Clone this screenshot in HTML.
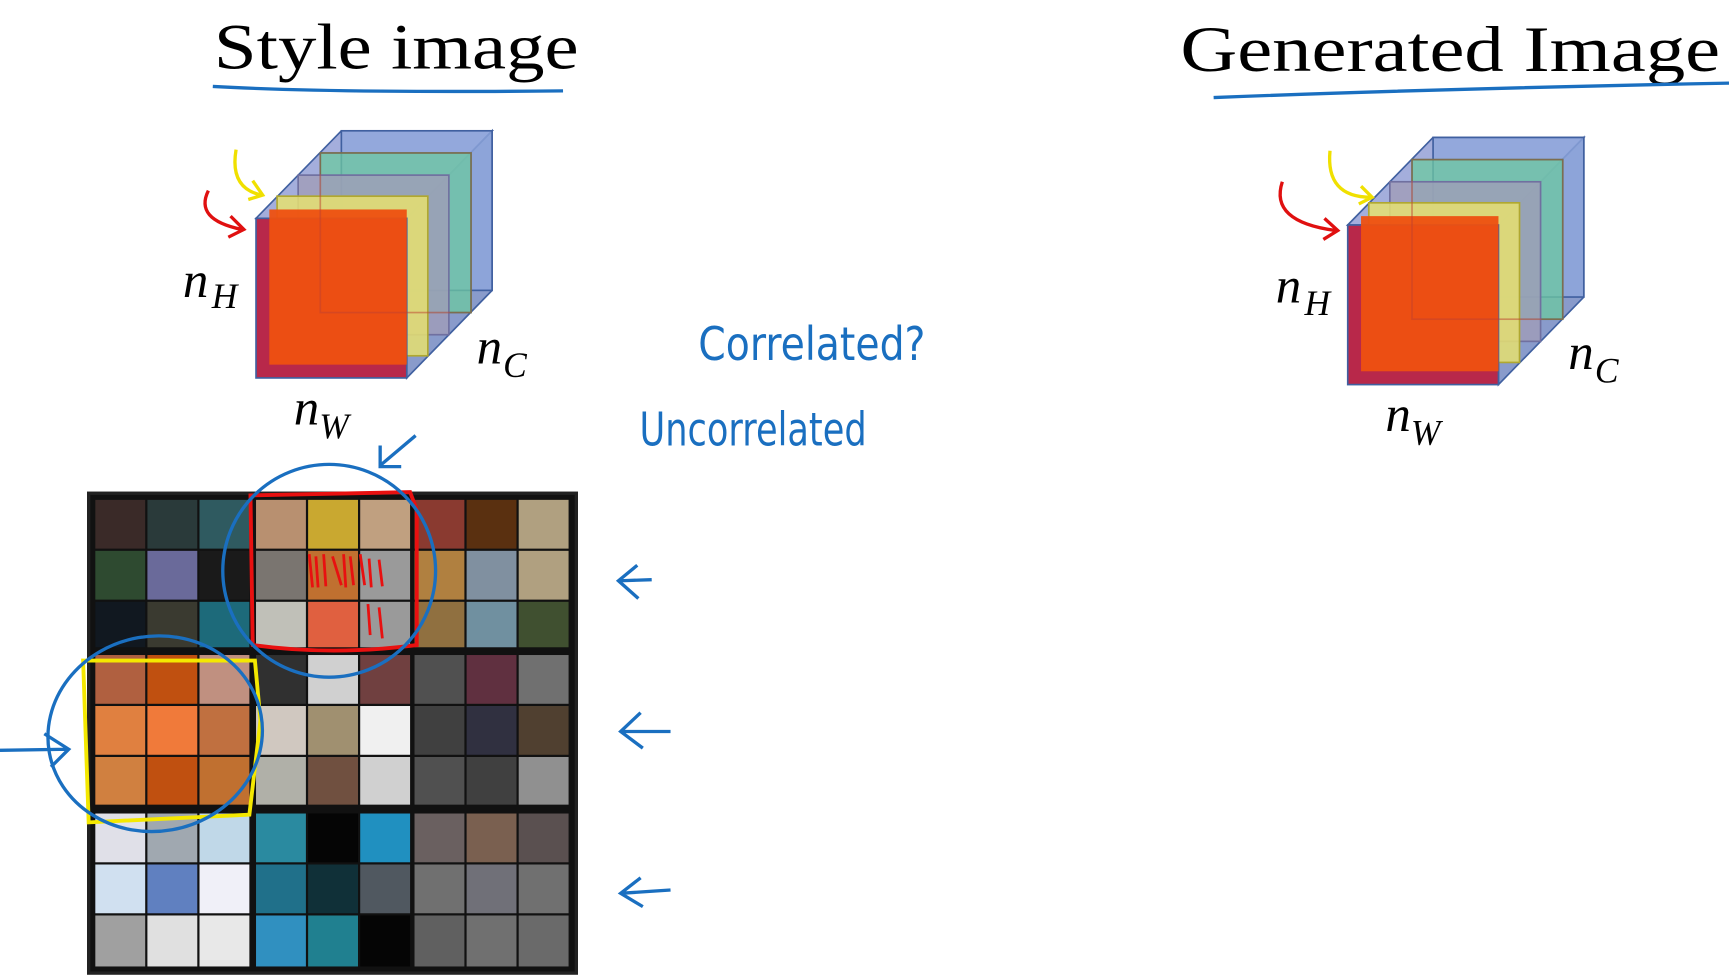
<!DOCTYPE html>
<html><head><meta charset="utf-8"><style>
html,body{margin:0;padding:0;background:#fff;}
svg{display:block;}
</style></head><body>
<svg width="1729" height="976" viewBox="0 0 1560 880.6" xmlns="http://www.w3.org/2000/svg">
<defs>
<g id="cube">
  <polygon points="0,0 77,-79 213,-79 136,0" fill="#5a6cc0" fill-opacity="0.55" stroke="#4060a0" stroke-width="1.5"/>
  <polygon points="136,0 213,-79 213,65 136,144" fill="#3a58a8" fill-opacity="0.6" stroke="#4060a0" stroke-width="1.5"/>
  <rect x="77" y="-79" width="136" height="144" fill="#8ea6dc" fill-opacity="0.8" stroke="#4060a0" stroke-width="1.5"/>
  <rect x="58" y="-59" width="136" height="144" fill="#6cc8a0" fill-opacity="0.75" stroke="#3a9a70" stroke-width="1.5"/>
  <rect x="38" y="-39" width="136" height="144" fill="#a09cb8" fill-opacity="0.8" stroke="#7070a0" stroke-width="1.5"/>
  <rect x="19" y="-20" width="136" height="144" fill="#e6e070" fill-opacity="0.85" stroke="#b0a830" stroke-width="1.5"/>
  <rect x="0" y="0" width="136" height="144" fill="#b8284a" stroke="#4060a0" stroke-width="1.5"/>
  <rect x="12" y="-8" width="124" height="140" fill="#ee5010" fill-opacity="0.95"/>
  <rect x="58" y="-59" width="136" height="144" fill="none" stroke="#c04030" stroke-opacity="0.5" stroke-width="1.5"/>
</g>
</defs>

<!-- Titles -->
<text x="193" y="62" font-family="Liberation Serif, serif" font-size="58" fill="#000" textLength="329" lengthAdjust="spacingAndGlyphs">Style image</text>
<path d="M192,78 Q300,84 508,82" stroke="#1a6fc0" stroke-width="3" fill="none"/>
<text x="1065" y="64" font-family="Liberation Serif, serif" font-size="58" fill="#000" textLength="487" lengthAdjust="spacingAndGlyphs">Generated Image</text>
<path d="M1095,88 Q1300,80 1560,75" stroke="#1a6fc0" stroke-width="3" fill="none"/>

<!-- Cubes -->
<use href="#cube" transform="translate(231,197)"/>
<use href="#cube" transform="translate(1216,203)"/>

<!-- cube arrows -->
<path d="M188,172 Q175,198 218,207 M208,195 L220,207 L206,214" stroke="#e01010" stroke-width="3" fill="none"/>
<path d="M213,135 Q207,170 236,176 M228,163 L237,176 L224,180" stroke="#f0e000" stroke-width="3" fill="none"/>
<path d="M1157,164 Q1145,200 1205,208 M1195,197 L1207,208 L1194,216" stroke="#e01010" stroke-width="3" fill="none"/>
<path d="M1200,136 Q1196,178 1237,178 M1228,168 L1238,178 L1226,184" stroke="#f0e000" stroke-width="3" fill="none"/>

<!-- labels -->
<g font-family="Liberation Serif, serif" font-style="italic" fill="#000">
<text x="165" y="268" font-size="46">n</text><text x="191" y="278" font-size="32">H</text>
<text x="430" y="328" font-size="46">n</text><text x="454" y="340" font-size="32">C</text>
<text x="265" y="383" font-size="46">n</text><text x="288" y="395" font-size="32">W</text>
<text x="1151" y="273" font-size="46">n</text><text x="1177" y="284" font-size="32">H</text>
<text x="1415" y="333" font-size="46">n</text><text x="1439" y="345" font-size="32">C</text>
<text x="1250" y="389" font-size="46">n</text><text x="1273" y="401" font-size="32">W</text>
</g>

<!-- handwriting -->
<text x="630" y="325" font-family="DejaVu Sans, sans-serif" font-size="42" fill="#1a6fc0" textLength="205" lengthAdjust="spacingAndGlyphs">Correlated?</text>
<text x="577" y="402" font-family="DejaVu Sans, sans-serif" font-size="42" fill="#1a6fc0" textLength="205" lengthAdjust="spacingAndGlyphs">Uncorrelated</text>

<!-- grid -->
<rect x="80" y="445" width="440" height="433" fill="#111" stroke="#222" stroke-width="3"/>
<g>
<rect x="86" y="451" width="45" height="44" fill="#3a2a28"/><rect x="133" y="451" width="45" height="44" fill="#2a3a3a"/><rect x="180" y="451" width="45" height="44" fill="#2f5a60"/>
<rect x="86" y="497" width="45" height="44" fill="#2e4a30"/><rect x="133" y="497" width="45" height="44" fill="#6a6a9a"/><rect x="180" y="497" width="45" height="44" fill="#1a1a1a"/>
<rect x="86" y="543" width="45" height="41" fill="#111820"/><rect x="133" y="543" width="45" height="41" fill="#3a3a30"/><rect x="180" y="543" width="45" height="41" fill="#1d6a7a"/>
<rect x="231" y="451" width="45" height="44" fill="#b89070"/><rect x="278" y="451" width="45" height="44" fill="#c9a830"/><rect x="325" y="451" width="45" height="44" fill="#c0a080"/>
<rect x="231" y="497" width="45" height="44" fill="#7a7570"/><rect x="278" y="497" width="45" height="44" fill="#c07030"/><rect x="325" y="497" width="45" height="44" fill="#9a9a9a"/>
<rect x="231" y="543" width="45" height="41" fill="#c0c0b8"/><rect x="278" y="543" width="45" height="41" fill="#e06040"/><rect x="325" y="543" width="45" height="41" fill="#9a9a9a"/>
<rect x="374" y="451" width="45" height="44" fill="#8a3a30"/><rect x="421" y="451" width="45" height="44" fill="#5a3010"/><rect x="468" y="451" width="45" height="44" fill="#b0a080"/>
<rect x="374" y="497" width="45" height="44" fill="#b08040"/><rect x="421" y="497" width="45" height="44" fill="#8090a0"/><rect x="468" y="497" width="45" height="44" fill="#b0a080"/>
<rect x="374" y="543" width="45" height="41" fill="#907040"/><rect x="421" y="543" width="45" height="41" fill="#7090a0"/><rect x="468" y="543" width="45" height="41" fill="#405030"/>
<rect x="86" y="591" width="45" height="44" fill="#b06040"/><rect x="133" y="591" width="45" height="44" fill="#c05010"/><rect x="180" y="591" width="45" height="44" fill="#c09080"/>
<rect x="86" y="637" width="45" height="44" fill="#e08040"/><rect x="133" y="637" width="45" height="44" fill="#f07a3a"/><rect x="180" y="637" width="45" height="44" fill="#c07040"/>
<rect x="86" y="683" width="45" height="43" fill="#d08040"/><rect x="133" y="683" width="45" height="43" fill="#c05010"/><rect x="180" y="683" width="45" height="43" fill="#c07030"/>
<rect x="231" y="591" width="45" height="44" fill="#303030"/><rect x="278" y="591" width="45" height="44" fill="#d0d0d0"/><rect x="325" y="591" width="45" height="44" fill="#704040"/>
<rect x="231" y="637" width="45" height="44" fill="#d0c8c0"/><rect x="278" y="637" width="45" height="44" fill="#a09070"/><rect x="325" y="637" width="45" height="44" fill="#f0f0f0"/>
<rect x="231" y="683" width="45" height="43" fill="#b0b0a8"/><rect x="278" y="683" width="45" height="43" fill="#705040"/><rect x="325" y="683" width="45" height="43" fill="#d0d0d0"/>
<rect x="374" y="591" width="45" height="44" fill="#505050"/><rect x="421" y="591" width="45" height="44" fill="#603040"/><rect x="468" y="591" width="45" height="44" fill="#707070"/>
<rect x="374" y="637" width="45" height="44" fill="#404040"/><rect x="421" y="637" width="45" height="44" fill="#303040"/><rect x="468" y="637" width="45" height="44" fill="#504030"/>
<rect x="374" y="683" width="45" height="43" fill="#505050"/><rect x="421" y="683" width="45" height="43" fill="#404040"/><rect x="468" y="683" width="45" height="43" fill="#909090"/>
<rect x="86" y="734" width="45" height="44" fill="#e0e0e8"/><rect x="133" y="734" width="45" height="44" fill="#a0a8b0"/><rect x="180" y="734" width="45" height="44" fill="#c0d8e8"/>
<rect x="86" y="780" width="45" height="44" fill="#d0e0f0"/><rect x="133" y="780" width="45" height="44" fill="#6080c0"/><rect x="180" y="780" width="45" height="44" fill="#f0f0f8"/>
<rect x="86" y="826" width="45" height="46" fill="#a0a0a0"/><rect x="133" y="826" width="45" height="46" fill="#e0e0e0"/><rect x="180" y="826" width="45" height="46" fill="#e8e8e8"/>
<rect x="231" y="734" width="45" height="44" fill="#2a8aa0"/><rect x="278" y="734" width="45" height="44" fill="#050505"/><rect x="325" y="734" width="45" height="44" fill="#2090c0"/>
<rect x="231" y="780" width="45" height="44" fill="#20708a"/><rect x="278" y="780" width="45" height="44" fill="#103038"/><rect x="325" y="780" width="45" height="44" fill="#505860"/>
<rect x="231" y="826" width="45" height="46" fill="#3090c0"/><rect x="278" y="826" width="45" height="46" fill="#208090"/><rect x="325" y="826" width="45" height="46" fill="#050505"/>
<rect x="374" y="734" width="45" height="44" fill="#6a6060"/><rect x="421" y="734" width="45" height="44" fill="#7a6050"/><rect x="468" y="734" width="45" height="44" fill="#5a5050"/>
<rect x="374" y="780" width="45" height="44" fill="#707070"/><rect x="421" y="780" width="45" height="44" fill="#707078"/><rect x="468" y="780" width="45" height="44" fill="#707070"/>
<rect x="374" y="826" width="45" height="46" fill="#606060"/><rect x="421" y="826" width="45" height="46" fill="#707070"/><rect x="468" y="826" width="45" height="46" fill="#6a6a6a"/>
</g>

<!-- annotations on grid -->
<path d="M226,447 L370,444 L376,460 L376,582 Q300,592 228,582 Z" fill="none" stroke="#e81010" stroke-width="3.5"/>
<g stroke="#e81010" stroke-width="2.5" fill="none">
<path d="M279,500 l3,30 M285,502 l2,28 M292,500 l2,29 M300,502 l8,26 M310,500 l2,30 M316,502 l3,26 M325,500 l4,28 M333,504 l2,26 M342,505 l3,24 M332,545 l2,28 M342,548 l3,28"/>
</g>
<ellipse cx="297" cy="515" rx="96" ry="96" fill="none" stroke="#1a6fc0" stroke-width="3"/>
<path d="M75,596 L230,596 L235,650 L225,735 L80,742 Z" fill="none" stroke="#f4e800" stroke-width="3.5"/>
<ellipse cx="140" cy="662" rx="97" ry="88" fill="none" stroke="#1a6fc0" stroke-width="3" transform="rotate(-10 140 662)"/>
<path d="M0,677 L60,676 M40,662 L62,676 L46,692" fill="none" stroke="#1a6fc0" stroke-width="3"/>
<path d="M375,393 L343,420 M343,402 L343,421 L362,421" fill="none" stroke="#1a6fc0" stroke-width="3"/>
<g fill="none" stroke="#1a6fc0" stroke-width="3">
<path d="M588,523 L560,524 M575,510 L558,524 L576,540"/>
<path d="M605,660 L560,660 M578,643 L560,660 L580,675"/>
<path d="M605,803 L560,806 M578,792 L560,806 L580,818"/>
</g>
</svg>
</body></html>
